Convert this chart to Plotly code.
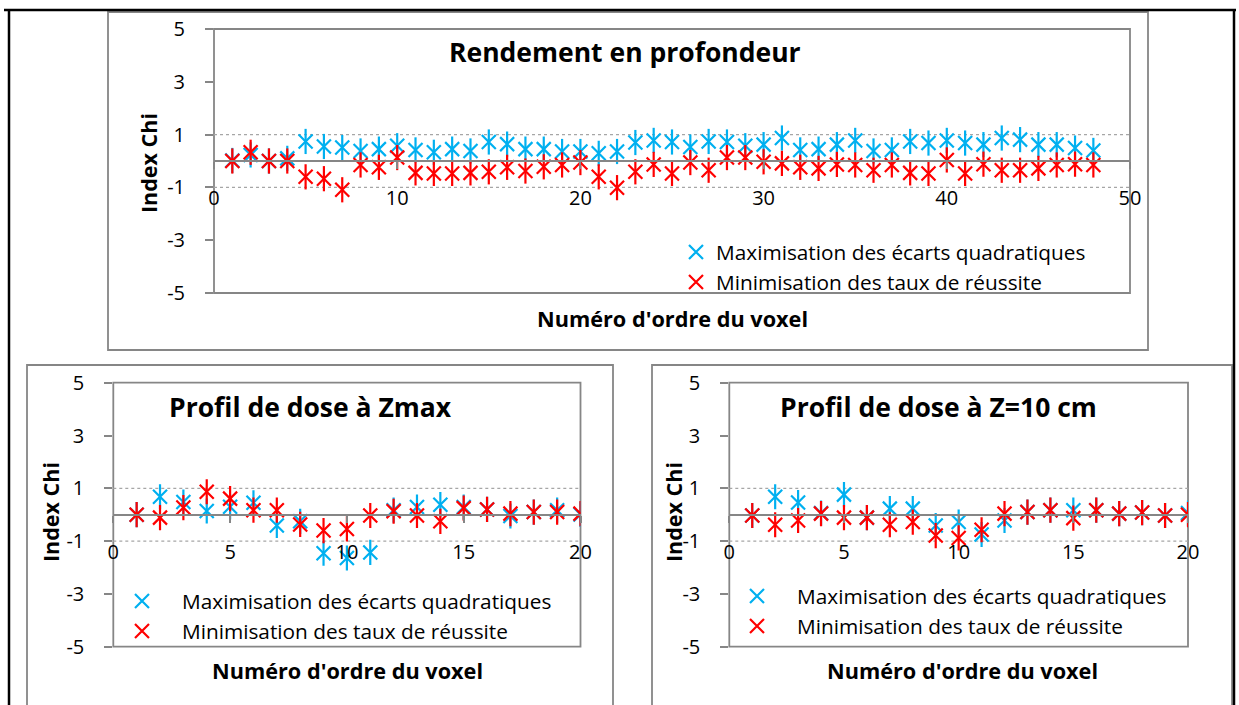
import plotly.graph_objects as go

W, H = 1239, 705
FONT = "Open Sans"
BLUE = "#00B0F0"
RED = "#FF0000"
GREY = "#868686"

# --- Rendement en profondeur (48 voxels) ---
depth_voxels = list(range(1, 49))
depth_max_ecarts = [0.02, 0.23, 0.0, 0.10, 0.74, 0.55, 0.51, 0.38, 0.45, 0.58,
                    0.42, 0.33, 0.45, 0.38, 0.72, 0.64, 0.45, 0.45, 0.36, 0.36,
                    0.29, 0.36, 0.70, 0.78, 0.72, 0.53, 0.74, 0.72, 0.58, 0.62,
                    0.87, 0.42, 0.45, 0.62, 0.78, 0.38, 0.42, 0.74, 0.68, 0.78,
                    0.68, 0.62, 0.87, 0.81, 0.62, 0.62, 0.49, 0.40]
depth_min_taux = [0.0, 0.33, 0.0, 0.0, -0.60, -0.67, -1.09, -0.15, -0.24, 0.13,
                  -0.45, -0.47, -0.47, -0.45, -0.41, -0.24, -0.38, -0.22, -0.15, -0.06,
                  -0.60, -1.01, -0.41, -0.13, -0.47, -0.06, -0.35, 0.13, 0.13, -0.03,
                  -0.09, -0.24, -0.28, -0.13, -0.15, -0.35, -0.15, -0.45, -0.47, 0.04,
                  -0.47, -0.12, -0.35, -0.35, -0.28, -0.15, -0.12, -0.15]

# --- Profil de dose à Zmax (20 voxels) ---
zmax_voxels = list(range(1, 21))
zmax_max_ecarts = [0.0, 0.68, 0.48, 0.14, 0.30, 0.45, -0.41, -0.25, -1.46, -1.64,
                   -1.43, 0.17, 0.29, 0.38, 0.29, 0.20, -0.05, 0.10, 0.17, 0.01]
zmax_min_taux = [0.0, -0.11, 0.27, 0.87, 0.61, 0.17, 0.17, -0.37, -0.60, -0.54,
                 -0.03, 0.13, -0.03, -0.25, 0.25, 0.20, 0.04, 0.10, 0.10, 0.04]

# --- Profil de dose à Z=10 cm (20 voxels) ---
z10_voxels = list(range(1, 21))
z10_max_ecarts = [-0.03, 0.68, 0.46, 0.06, 0.76, -0.11, 0.23, 0.23, -0.41, -0.28,
                  -0.75, -0.22, 0.10, 0.17, 0.17, 0.17, 0.04, 0.08, -0.03, 0.06]
z10_min_taux = [-0.03, -0.38, -0.22, 0.04, -0.11, -0.11, -0.38, -0.28, -0.79, -0.88,
                -0.57, 0.04, 0.10, 0.17, -0.13, 0.17, 0.04, 0.08, -0.03, 0.0]

series_names = ["Maximisation des écarts quadratiques", "Minimisation des taux de réussite"]
y_ticks = [5, 3, 1, -1, -3, -5]
y_range = [-5, 5]

# panel definitions: plot-area pixel box (left, right, top, bottom)
panels = [
    dict(sfx="", leg="legend", x=depth_voxels, ys=[depth_max_ecarts, depth_min_taux],
         xr=[0, 50], dt=10, box=(214, 1130, 29, 293),
         title="Rendement en profondeur", tpos=(625, 52),
         ytpos=(148, 163), xtpos=(672, 318)),
    dict(sfx="2", leg="legend2", x=zmax_voxels, ys=[zmax_max_ecarts, zmax_min_taux],
         xr=[0, 20], dt=5, box=(113.3, 580.5, 382.7, 646.7),
         title="Profil de dose à Zmax", tpos=(310, 407),
         ytpos=(50, 512), xtpos=(347, 670)),
    dict(sfx="3", leg="legend3", x=z10_voxels, ys=[z10_max_ecarts, z10_min_taux],
         xr=[0, 20], dt=5, box=(729.3, 1188, 382.7, 646.7),
         title="Profil de dose à Z=10 cm", tpos=(938, 407),
         ytpos=(673, 512), xtpos=(962, 670)),
]

fig = go.Figure()
shapes = []
annotations = []


def px_x(v):
    return v / W


def px_y(v):
    return 1 - v / H


for p in panels:
    sfx = p["sfx"]
    xa, ya = "x" + sfx, "y" + sfx
    for name, vals, col in zip(series_names, p["ys"], [BLUE, RED]):
        # Excel-style star: an X plus a vertical stroke
        fig.add_trace(go.Scatter(
            x=p["x"], y=vals, mode="markers", name=name, xaxis=xa, yaxis=ya,
            legend=p["leg"],
            marker=dict(symbol="x-thin-open", size=14,
                        line=dict(color=col, width=2.2), color=col),
        ))
        fig.add_trace(go.Scatter(
            x=p["x"], y=vals, mode="markers", name=name, xaxis=xa, yaxis=ya,
            showlegend=False,
            marker=dict(symbol="line-ns-open", size=18,
                        line=dict(color=col, width=2.2), color=col),
        ))

    l, r, t, b = p["box"]
    ydom = [px_y(b), px_y(t)]
    zero_pos = ydom[0] + (0 - y_range[0]) / (y_range[1] - y_range[0]) * (ydom[1] - ydom[0])

    fig.layout["xaxis" + sfx] = dict(
        domain=[px_x(l), px_x(r)], range=p["xr"], dtick=p["dt"], tick0=0,
        anchor="free", position=zero_pos, automargin=False,
        showline=True, linecolor=GREY, linewidth=2,
        ticks="outside", ticklen=7, tickwidth=1.5, tickcolor=GREY,
        ticklabelstandoff=12,
        showgrid=False, zeroline=False,
        tickfont=dict(family=FONT, size=20, color="black"),
    )
    fig.layout["yaxis" + sfx] = dict(
        domain=ydom, range=y_range, tickvals=y_ticks,
        ticktext=[str(v) for v in y_ticks], anchor=xa, automargin=False,
        showline=False, ticks="outside", ticklen=8, tickwidth=1.5, tickcolor=GREY,
        ticklabelstandoff=16,
        showgrid=False, zeroline=False,
        tickfont=dict(family=FONT, size=20, color="black"),
    )

    # plot-area border and dotted gridlines at ±1
    shapes.append(dict(type="rect", xref=xa + " domain", yref=ya + " domain",
                       x0=0, x1=1, y0=0, y1=1, line=dict(color=GREY, width=1.8),
                       layer="below"))
    for gv in (1, -1):
        shapes.append(dict(type="line", xref=xa + " domain", yref=ya,
                           x0=0, x1=1, y0=gv, y1=gv,
                           line=dict(color="#A6A6A6", width=1.2, dash="dot"),
                           layer="below"))

    annotations.append(dict(text="<b>%s</b>" % p["title"], xref="paper", yref="paper",
                            x=px_x(p["tpos"][0]), y=px_y(p["tpos"][1]),
                            xanchor="center", yanchor="middle", showarrow=False,
                            font=dict(family=FONT, size=26.5, color="black")))
    annotations.append(dict(text="<b>Index Chi</b>", xref="paper", yref="paper",
                            x=px_x(p["ytpos"][0]), y=px_y(p["ytpos"][1]),
                            xanchor="center", yanchor="middle", textangle=-90,
                            showarrow=False,
                            font=dict(family=FONT, size=21.5, color="black")))
    annotations.append(dict(text="<b>Numéro d'ordre du voxel</b>", xref="paper",
                            yref="paper", x=px_x(p["xtpos"][0]), y=px_y(p["xtpos"][1]),
                            xanchor="center", yanchor="middle", showarrow=False,
                            font=dict(family=FONT, size=21.7, color="black")))

# chart-area frames (grey) and page borders (black)
frames = [(108, 1148, 12, 350), (27, 613, 365, 712), (652, 1232, 365, 712)]
for l, r, t, b in frames:
    shapes.append(dict(type="rect", xref="paper", yref="paper",
                       x0=px_x(l), x1=px_x(r), y0=px_y(b), y1=px_y(t),
                       line=dict(color=GREY, width=1.8), layer="below"))
for x0, y0, x1, y1 in [(4, 10, 1236, 10), (9, 10, 9, 712), (1234, 10, 1234, 712)]:
    shapes.append(dict(type="line", xref="paper", yref="paper",
                       x0=px_x(x0), x1=px_x(x1), y0=px_y(y0), y1=px_y(y1),
                       line=dict(color="black", width=2.5)))

legend_font = dict(family=FONT, size=20.8, color="black")
fig.update_layout(
    width=W, height=H, margin=dict(l=0, r=0, t=0, b=0, pad=0, autoexpand=False),
    paper_bgcolor="white", plot_bgcolor="rgba(0,0,0,0)",
    showlegend=True,
    shapes=shapes, annotations=annotations,
    legend=dict(x=px_x(676), y=px_y(232), xanchor="left", yanchor="top",
                font=legend_font, bgcolor="rgba(0,0,0,0)", itemwidth=30,
                tracegroupgap=0),
    legend2=dict(x=px_x(102), y=px_y(581), xanchor="left", yanchor="top",
                 font=legend_font, bgcolor="rgba(0,0,0,0)", itemwidth=70,
                 tracegroupgap=0),
    legend3=dict(x=px_x(717), y=px_y(576), xanchor="left", yanchor="top",
                 font=legend_font, bgcolor="rgba(0,0,0,0)", itemwidth=70,
                 tracegroupgap=0),
)

fig.write_html("out.html")
